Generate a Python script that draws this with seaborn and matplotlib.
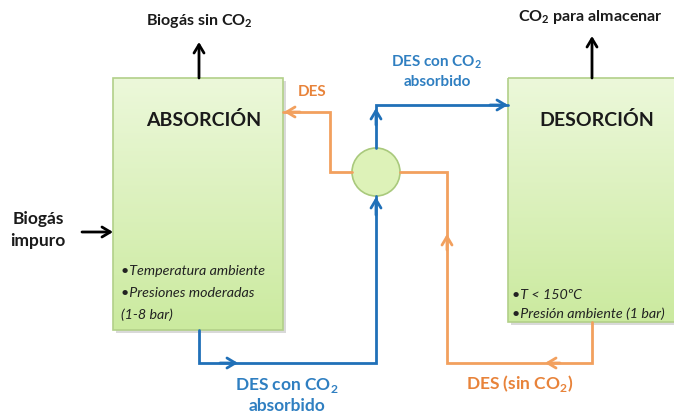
import numpy as np
import matplotlib
matplotlib.use("Agg")
import matplotlib.pyplot as plt
import seaborn as sns
from matplotlib.patches import Rectangle, Circle

# --------------------------
# Diagram content
# --------------------------
units = ["ABSORCIÓN", "DESORCIÓN"]
absorb_notes = ["•Temperatura ambiente", "•Presiones moderadas", "(1-8 bar)"]
desorb_notes = ["•T < 150ºC", "•Presión ambiente (1 bar)"]
gas_labels = ["Biogás\nimpuro", r"Biogás sin CO$_\mathbf{2}$", r"CO$_\mathbf{2}$ para almacenar"]
rich_label = "DES con CO$_\\mathbf{2}$\nabsorbido"
lean_labels = ["DES", r"DES (sin CO$_\mathbf{2}$)"]

BLUE = "#2070b8"
BLUE_TXT = "#2f7fc1"
ORANGE = "#f2a05e"
ORANGE_TXT = "#e8833a"
GREEN_EDGE = "#b2d089"

sns.set_theme(style="white")
plt.rcParams["font.family"] = ["Lato", "DejaVu Sans"]
plt.rcParams["mathtext.fontset"] = "custom"
plt.rcParams["mathtext.rm"] = "Lato"
plt.rcParams["mathtext.bf"] = "Lato:bold"

fig = plt.figure(figsize=(6.74, 4.16), dpi=100)
ax = fig.add_axes([0, 0, 1, 1])

grad = np.linspace(0, 1, 100).reshape(-1, 1)
cmap = matplotlib.colors.LinearSegmentedColormap.from_list("g", ["#ecf8da", "#cbea9f"])


def box(x0, y0, x1, y1):
    # shadow
    ax.add_patch(Rectangle((x0 + 3, y0 + 3), x1 - x0, y1 - y0, color="#d9d9d9", zorder=1, lw=0))
    ax.imshow(grad, extent=(x0, x1, y1, y0), cmap=cmap, aspect="auto", zorder=2)
    ax.add_patch(Rectangle((x0, y0), x1 - x0, y1 - y0, fill=False, ec=GREEN_EDGE, lw=1.2, zorder=3))


box(113, 78, 283, 330)
box(508, 78, 710, 322)
ax.set_xlim(0, 674)
ax.set_ylim(416, 0)
ax.axis("off")

# mixer circle
ax.add_patch(Circle((376, 172), 24, fc="#ddf2b8", ec="#a9c97c", lw=1.2, zorder=4))


def arrow(x0, y0, x1, y1, color, lw=2):
    ax.annotate("", xy=(x1, y1), xytext=(x0, y0),
                arrowprops=dict(arrowstyle="->,head_length=0.5,head_width=0.3",
                                color=color, lw=lw, shrinkA=0, shrinkB=0), zorder=5)


def line(xs, ys, color):
    ax.plot(xs, ys, color=color, lw=2, solid_joinstyle="miter", zorder=4)


# gas arrows (black)
arrow(82, 232, 113, 232, "black")
arrow(199, 78, 199, 42, "black")
arrow(592, 78, 592, 36, "black")

# rich DES (blue)
line([199, 199, 376, 376], [330, 363, 363, 196], BLUE)
arrow(220, 363, 238, 363, BLUE)
arrow(376, 215, 376, 197, BLUE)
line([376, 376, 508], [148, 105, 105], BLUE)
arrow(376, 125, 376, 108, BLUE)
arrow(490, 105, 508, 105, BLUE)

# lean DES (orange)
line([352, 330, 330, 283], [172, 172, 112, 112], ORANGE)
arrow(300, 112, 284, 112, ORANGE)
line([400, 447, 447, 592, 592], [172, 172, 363, 363, 322], ORANGE)
arrow(447, 250, 447, 234, ORANGE)
arrow(560, 363, 545, 363, ORANGE)

# texts
ax.text(204, 120, units[0], ha="center", va="center", fontsize=14, fontweight="bold", color="#1a1a1a", zorder=6)
ax.text(597, 120, units[1], ha="center", va="center", fontsize=14, fontweight="bold", color="#1a1a1a", zorder=6)
for i, t in enumerate(absorb_notes):
    ax.text(121, 271 + i * 22, t, ha="left", va="center", fontsize=10.3, style="italic", color="#222222", zorder=6)
for i, t in enumerate(desorb_notes):
    ax.text(512, 295 + i * 19, t, ha="left", va="center", fontsize=10.3, style="italic", color="#222222", zorder=6)

ax.text(38, 230, gas_labels[0], ha="center", va="center", fontsize=12.5, fontweight="bold",
        color="#1a1a1a", linespacing=1.45, zorder=6)
ax.text(199, 21, gas_labels[1], ha="center", va="center", fontsize=11.5, fontweight="bold", color="#1a1a1a", zorder=6)
ax.text(590, 17, gas_labels[2], ha="center", va="center", fontsize=11.5, fontweight="bold", color="#1a1a1a", zorder=6)

ax.text(437, 71, rich_label, ha="center", va="center", fontsize=11, fontweight="bold",
        color=BLUE_TXT, linespacing=1.35, zorder=6)
ax.text(287, 395, rich_label, ha="center", va="center", fontsize=12.5, fontweight="bold",
        color=BLUE_TXT, linespacing=1.25, zorder=6)
ax.text(312, 92, lean_labels[0], ha="center", va="center", fontsize=11, fontweight="bold", color=ORANGE_TXT, zorder=6)
ax.text(520, 384, lean_labels[1], ha="center", va="center", fontsize=12.5, fontweight="bold", color=ORANGE_TXT, zorder=6)

fig.savefig("out.png", dpi=100, facecolor="white")
